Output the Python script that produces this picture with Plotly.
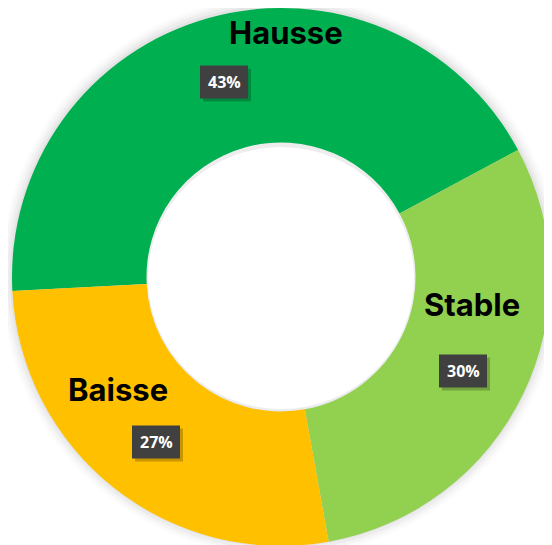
import plotly.graph_objects as go

# ---- data ----
labels = ["Hausse", "Stable", "Baisse"]
values = [43, 30, 27]
colors = ["#00B050", "#92D050", "#FFC000"]

# ---- layout (page pixels from top-left; page body has an 8px margin) ----
W, H = 552, 545
OFF = 8
name_pos = [(286, 33), (472, 304), (118, 389)]
pct_pos = [(224, 82), (463, 371), (156, 442)]
box_w, box_h = 48, 33
cx, cy, R = 281, 276, 270


def px2x(p):
    return (p - OFF) / W


def py2y(p):
    return 1 - (p - OFF) / H


fig = go.Figure()

# soft shadow rings behind the donut
for i, a in enumerate([0.04, 0.03, 0.022, 0.015]):
    r = R + 1 + i * 3
    fig.add_shape(type="circle", xref="paper", yref="paper",
                  x0=px2x(cx - r), x1=px2x(cx + r),
                  y0=py2y(cy + r), y1=py2y(cy - r),
                  fillcolor=f"rgba(0,0,0,{a})", line_width=0, layer="below")
# white hole with faint inner shadow
fig.add_shape(type="circle", xref="paper", yref="paper",
              x0=px2x(cx - R / 2), x1=px2x(cx + R / 2),
              y0=py2y(cy + R / 2), y1=py2y(cy - R / 2),
              fillcolor="#EDEDED", line_width=0, layer="below")
fig.add_shape(type="circle", xref="paper", yref="paper",
              x0=px2x(cx - R / 2 + 2), x1=px2x(cx + R / 2 - 2),
              y0=py2y(cy + R / 2 - 2), y1=py2y(cy - R / 2 + 6),
              fillcolor="#FFFFFF", line_width=0, layer="below")

fig.add_trace(go.Pie(
    labels=labels,
    values=values,
    marker=dict(colors=colors, line=dict(width=0)),
    hole=0.5,
    sort=False,
    direction="clockwise",
    rotation=267,
    textinfo="none",
    hoverinfo="label+percent",
    showlegend=False,
    domain=dict(x=[max(0, px2x(cx - R)), min(1, px2x(cx + R))],
                y=[max(0, py2y(cy + R)), min(1, py2y(cy - R))]),
))

total = sum(values)
for lab, v, (nx, ny), (px, py) in zip(labels, values, name_pos, pct_pos):
    pct = f"{round(100 * v / total)}%"
    fig.add_annotation(x=px2x(nx), y=py2y(ny), xref="paper", yref="paper",
                       xanchor="center", yanchor="middle",
                       text=lab, showarrow=False,
                       font=dict(family="Inter", size=31, color="#000000", weight=700))
    # drop shadow + dark box of the percent label
    fig.add_shape(type="rect", xref="paper", yref="paper", layer="above",
                  x0=px2x(px - box_w / 2 + 3), x1=px2x(px + box_w / 2 + 3),
                  y0=py2y(py + box_h / 2 + 3), y1=py2y(py - box_h / 2 + 3),
                  fillcolor="rgba(0,0,0,0.22)", line_width=0)
    fig.add_shape(type="rect", xref="paper", yref="paper", layer="above",
                  x0=px2x(px - box_w / 2), x1=px2x(px + box_w / 2),
                  y0=py2y(py + box_h / 2), y1=py2y(py - box_h / 2),
                  fillcolor="#404040", line_width=0)
    fig.add_annotation(x=px2x(px), y=py2y(py), xref="paper", yref="paper",
                       xanchor="center", yanchor="middle",
                       text=pct, showarrow=False,
                       font=dict(family="Open Sans", size=16, color="#FFFFFF", weight=700))

fig.update_layout(
    width=W, height=H,
    margin=dict(l=0, r=0, t=0, b=0),
    paper_bgcolor="rgba(0,0,0,0)",
    plot_bgcolor="rgba(0,0,0,0)",
)

fig.write_html("out.html")
